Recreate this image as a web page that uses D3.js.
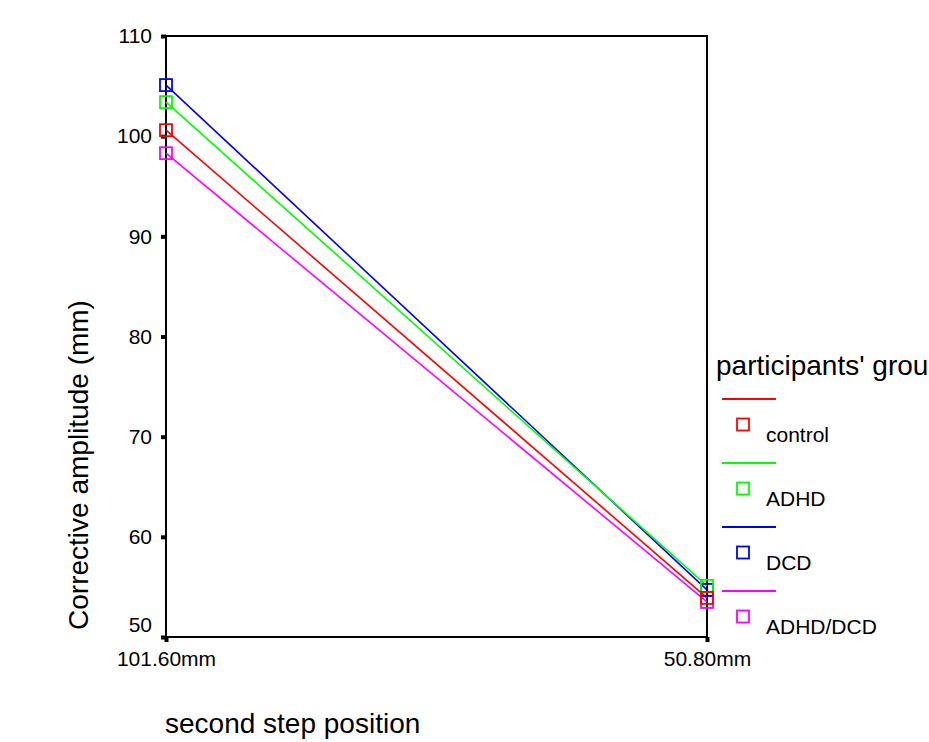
<!DOCTYPE html>
<html>
<head>
<meta charset="utf-8">
<script src="https://cdn.jsdelivr.net/npm/d3@7.9.0/dist/d3.min.js"></script>
<style>
  body { margin: 0; background: #fff; }
  svg { display: block; font-family: Arial, "Liberation Sans", sans-serif; }
</style>
</head>
<body>
<svg id="chart" width="929" height="742"></svg>
<script>
// second step position (categories on x)
const positions = ['101.60mm', '50.80mm'];
const groups = ['control', 'ADHD', 'DCD', 'ADHD/DCD'];
const colors = ['#ff0000', '#00ff00', '#0000ff', '#ff00ff'];

// mean corrective amplitude (mm) per group, one value per position
const control  = [100.6, 53.9];
const adhd     = [103.4, 55.1];
const dcd      = [105.1, 54.7];
const adhdDcd  = [98.3, 53.5];

const yTicks = [50, 60, 70, 80, 90, 100, 110];

const series = [control, adhd, dcd, adhdDcd].map((vals, i) => ({
  name: groups[i], color: colors[i], values: vals
}));

const svg = d3.select('#chart');
const plotLeft = 166, plotRight = 707, plotTop = 36, plotBottom = 637;

const x = d3.scalePoint().domain(positions).range([plotLeft, plotRight]).padding(0);
const y = d3.scaleLinear().domain([50, 110]).range([plotBottom, plotTop]);

/* frame */
svg.append('rect')
  .attr('x', plotLeft).attr('y', plotTop)
  .attr('width', plotRight - plotLeft).attr('height', plotBottom - plotTop)
  .attr('fill', 'none').attr('stroke', '#000').attr('stroke-width', 2);

/* y axis */
const yAxis = svg.append('g')
  .attr('transform', `translate(${plotLeft},0)`)
  .call(d3.axisLeft(y).tickValues(yTicks).tickSize(5).tickPadding(9));
yAxis.select('.domain').remove();
yAxis.selectAll('.tick line').attr('stroke-width', 4);
yAxis.selectAll('.tick text')
  .attr('font-size', 21).attr('fill', '#000')
  .attr('dy', d => d === 50 ? '-0.25em' : '0.32em');

/* x axis */
const xAxis = svg.append('g')
  .attr('transform', `translate(0,${plotBottom})`)
  .call(d3.axisBottom(x).tickSize(5).tickPadding(9));
xAxis.select('.domain').remove();
xAxis.selectAll('.tick line').attr('stroke-width', 4);
xAxis.selectAll('.tick text').attr('font-size', 21).attr('fill', '#000');

/* lines and markers, drawn so red ends on top */
const drawOrder = [3, 2, 1, 0];
const line = d3.line().x((d, i) => x(positions[i])).y(d => y(d));

drawOrder.forEach(k => {
  const s = series[k];
  svg.append('path')
    .datum(s.values)
    .attr('d', line)
    .attr('fill', 'none')
    .attr('stroke', s.color)
    .attr('stroke-width', 1.6);
});
drawOrder.forEach(k => {
  const s = series[k];
  svg.selectAll(null)
    .data(s.values)
    .join('rect')
      .attr('x', (d, i) => x(positions[i]) - 6)
      .attr('y', d => y(d) - 6)
      .attr('width', 12).attr('height', 12)
      .attr('fill', 'none')
      .attr('stroke', s.color)
      .attr('stroke-width', 1.8);
});

/* axis titles */
svg.append('text')
  .attr('transform', 'translate(88,465) rotate(-90)')
  .attr('text-anchor', 'middle')
  .attr('font-size', 28)
  .text('Corrective amplitude (mm)');

svg.append('text')
  .attr('x', 165).attr('y', 733)
  .attr('font-size', 28)
  .text('second step position');

/* legend */
const legend = svg.append('g').attr('transform', 'translate(716,375)');
legend.append('text')
  .attr('font-size', 28)
  .text("participants' group");

const items = legend.selectAll('g.item')
  .data(series)
  .join('g')
    .attr('class', 'item')
    .attr('transform', (d, i) => `translate(0,${24 + i * 64})`);

items.append('line')
  .attr('x1', 6).attr('x2', 60)
  .attr('stroke', d => d.color).attr('stroke-width', 1.8);
items.append('rect')
  .attr('x', 21).attr('y', 19.5)
  .attr('width', 12).attr('height', 12)
  .attr('fill', 'none')
  .attr('stroke', d => d.color).attr('stroke-width', 1.8);
items.append('text')
  .attr('x', 50).attr('y', 43)
  .attr('font-size', 21)
  .text(d => d.name);
</script>
</body>
</html>
